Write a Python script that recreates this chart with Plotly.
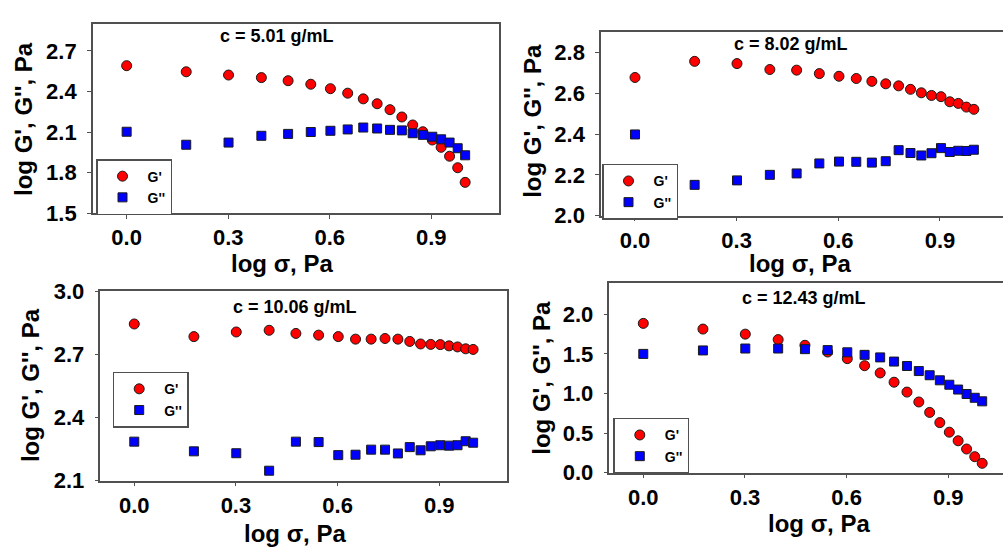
import plotly.graph_objects as go

# log of applied stress (shared by all four samples)
log_sigma = [0.0, 0.176, 0.301, 0.398, 0.477, 0.544, 0.602, 0.653, 0.699, 0.740,
             0.778, 0.813, 0.845, 0.875, 0.903, 0.929, 0.954, 0.978, 1.0]

# c = 5.01 g/mL
g1_storage = [2.59, 2.545, 2.521, 2.502, 2.479, 2.453, 2.42, 2.387, 2.345, 2.309,
              2.265, 2.211, 2.152, 2.102, 2.041, 1.987, 1.921, 1.836, 1.728]
g1_loss = [2.102, 2.006, 2.022, 2.072, 2.086, 2.10, 2.109, 2.119, 2.133, 2.126,
           2.116, 2.112, 2.091, 2.079, 2.065, 2.046, 2.022, 1.98, 1.928]

# c = 8.02 g/mL
g2_storage = [2.677, 2.756, 2.745, 2.716, 2.713, 2.696, 2.683, 2.672, 2.658, 2.646,
              2.636, 2.619, 2.602, 2.589, 2.583, 2.558, 2.55, 2.532, 2.521]
g2_loss = [2.398, 2.151, 2.173, 2.20, 2.207, 2.256, 2.265, 2.264, 2.26, 2.267,
           2.321, 2.307, 2.295, 2.306, 2.331, 2.312, 2.318, 2.317, 2.323]

# c = 10.06 g/mL
g3_storage = [2.844, 2.784, 2.806, 2.814, 2.799, 2.791, 2.784, 2.772, 2.772, 2.775,
              2.772, 2.761, 2.749, 2.747, 2.746, 2.74, 2.735, 2.726, 2.723]
g3_loss = [2.285, 2.239, 2.23, 2.147, 2.285, 2.283, 2.221, 2.223, 2.247, 2.247,
           2.229, 2.259, 2.244, 2.263, 2.268, 2.266, 2.268, 2.287, 2.28]

# c = 12.43 g/mL
g4_storage = [1.887, 1.815, 1.751, 1.682, 1.61, 1.525, 1.441, 1.352, 1.26, 1.143,
              1.018, 0.893, 0.761, 0.632, 0.511, 0.402, 0.298, 0.201, 0.117]
g4_loss = [1.501, 1.545, 1.569, 1.569, 1.561, 1.549, 1.521, 1.489, 1.457, 1.404,
           1.348, 1.284, 1.231, 1.167, 1.111, 1.05, 0.994, 0.946, 0.901]

concentrations = ["c = 5.01 g/mL", "c = 8.02 g/mL", "c = 10.06 g/mL", "c = 12.43 g/mL"]
x_ticks = [0.0, 0.3, 0.6, 0.9]
y_ticks = [
    [1.5, 1.8, 2.1, 2.4, 2.7],
    [2.0, 2.2, 2.4, 2.6, 2.8],
    [2.1, 2.4, 2.7, 3.0],
    [0.0, 0.5, 1.0, 1.5, 2.0],
]
storage = [g1_storage, g2_storage, g3_storage, g4_storage]
loss = [g1_loss, g2_loss, g3_loss, g4_loss]

W, H = 1003, 555
FONT = "Liberation Sans"
FRAME = "#505050"


def px(x):
    return x / W


def py(y):
    return 1 - y / H


# per-panel geometry (pixels): x domain, y domain, x range, y range,
# whether the right edge is framed, legend corner, title/axis-label centres
panels = [
    dict(xd=(92.8, 499.0), yd=(210.7, 12.3), xr=(-0.1, 1.1), yr=(1.5, 2.9), right=True,
         leg=(96, 154), title=(277, 24.7), ytl=(23.3, 111.7), xtl=(281.7, 263)),
    dict(xd=(601.1, 1003), yd=(213.3, 20.9), xr=(-0.1, 1.086), yr=(2.0, 2.9), right=False,
         leg=(602, 159), title=(791, 33.3), ytl=(533, 114), xtl=(800.3, 263.5)),
    dict(xd=(100.4, 507.0), yd=(490.7, 292.3), xr=(-0.1, 1.1), yr=(2.1, 3.0), right=True,
         leg=(112.7, 376.7), title=(295, 309.2), ytl=(30, 390.7), xtl=(295, 545.7)),
    dict(xd=(609.4, 1003), yd=(482.3, 283.6), xr=(-0.1, 1.0614), yr=(0.0, 2.4), right=False,
         leg=(613.3, 425), title=(804.3, 299.7), ytl=(540.7, 383.3), xtl=(819.3, 536)),
]

fig = go.Figure()
layout = dict(
    width=W, height=H, margin=dict(l=0, r=0, t=0, b=0),
    paper_bgcolor="white", plot_bgcolor="white", showlegend=True,
    font=dict(family=FONT, color="black", weight="bold"),
)
annotations = []

for i, p in enumerate(panels):
    n = "" if i == 0 else str(i + 1)
    leg = "legend" + n
    xa, ya = "x" + n, "y" + n

    fig.add_trace(go.Scatter(
        x=log_sigma, y=storage[i], mode="markers", name="G'",
        xaxis=xa, yaxis=ya, legend=leg,
        marker=dict(symbol="circle", size=10, color="#ff0000",
                    line=dict(color="#1a1a1a", width=1)),
    ))
    fig.add_trace(go.Scatter(
        x=log_sigma, y=loss[i], mode="markers", name="G''",
        xaxis=xa, yaxis=ya, legend=leg,
        marker=dict(symbol="square", size=9, color="#0000ff",
                    line=dict(color="#1a1a1a", width=1)),
    ))

    layout["xaxis" + n] = dict(
        domain=[px(p["xd"][0]), px(p["xd"][1])], range=list(p["xr"]),
        anchor=ya, tickvals=x_ticks, tickformat=".1f",
        showgrid=False, zeroline=False,
        showline=True, linecolor=FRAME, linewidth=1.5, mirror=True,
        ticks="outside", ticklen=4, tickwidth=1, tickcolor=FRAME,
        ticklabelstandoff=0,
        tickfont=dict(family=FONT, size=22, color="black", weight="bold"),
    )
    layout["yaxis" + n] = dict(
        domain=[py(p["yd"][0]), py(p["yd"][1])], range=list(p["yr"]),
        anchor=xa, tickvals=y_ticks[i], tickformat=".1f",
        showgrid=False, zeroline=False,
        showline=True, linecolor=FRAME, linewidth=1.5, mirror=p["right"],
        ticks="outside", ticklen=4, tickwidth=1, tickcolor=FRAME,
        ticklabelstandoff=6,
        tickfont=dict(family=FONT, size=22, color="black", weight="bold"),
    )
    layout[leg] = dict(
        x=px(p["leg"][0]), y=py(p["leg"][1]), xanchor="left", yanchor="top",
        xref="paper", yref="paper",
        bgcolor="white", bordercolor=FRAME, borderwidth=1.5,
        itemwidth=40,
        font=dict(family=FONT, size=14, color="black", weight="bold"),
    )

    annotations.append(dict(
        text=concentrations[i], x=px(p["title"][0]), y=py(p["title"][1]),
        xref="paper", yref="paper", xanchor="center", yanchor="middle",
        showarrow=False, font=dict(family=FONT, size=18, color="black", weight="bold"),
    ))
    annotations.append(dict(
        text="log G', G'', Pa", x=px(p["ytl"][0]), y=py(p["ytl"][1]), textangle=-90,
        xref="paper", yref="paper", xanchor="center", yanchor="middle",
        showarrow=False, font=dict(family=FONT, size=24, color="black", weight="bold"),
    ))
    annotations.append(dict(
        text="log σ, Pa", x=px(p["xtl"][0]), y=py(p["xtl"][1]),
        xref="paper", yref="paper", xanchor="center", yanchor="middle",
        showarrow=False, font=dict(family=FONT, size=24, color="black", weight="bold"),
    ))

layout["annotations"] = annotations
fig.update_layout(**layout)
fig.write_html("out.html")
